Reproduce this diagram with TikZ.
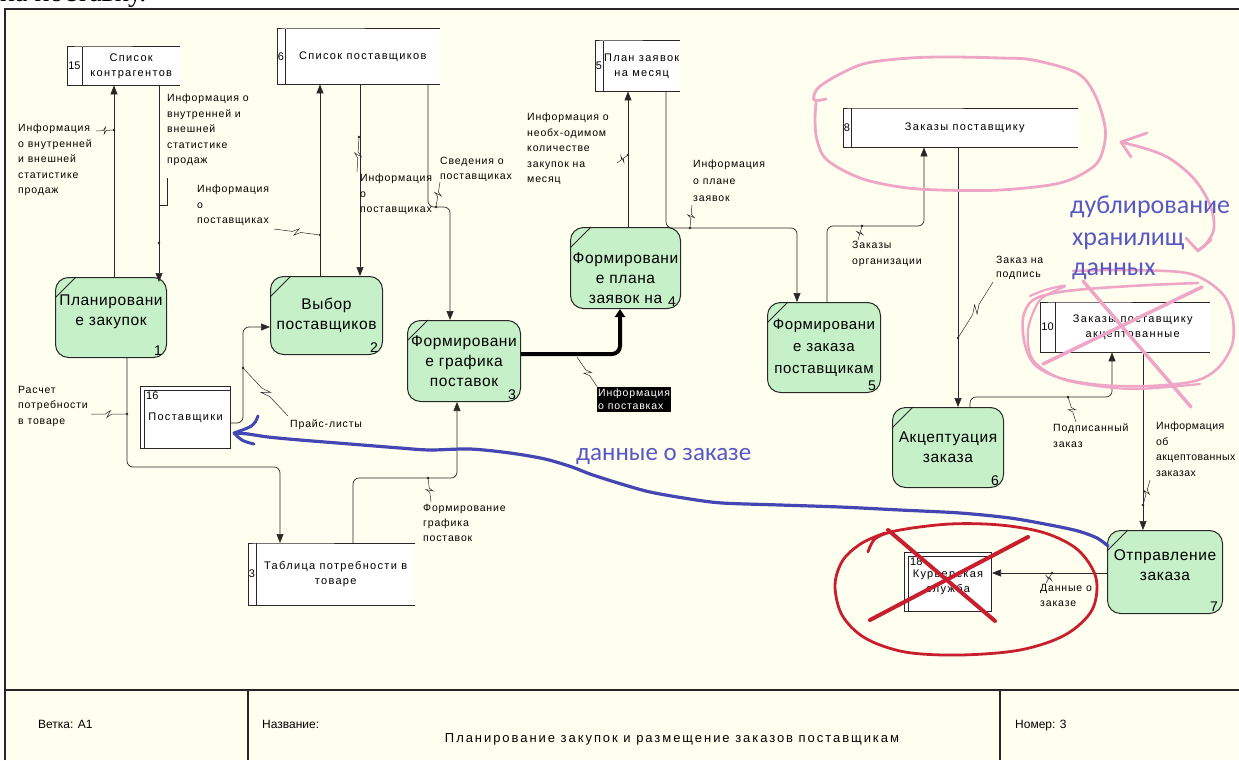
\documentclass[tikz,border=0pt]{standalone}
\usepackage{fontspec}
\setmainfont{Liberation Sans}
\newfontfamily\labf[LetterSpace=4]{Liberation Sans}
\newfontfamily\labg[LetterSpace=8]{Liberation Sans}
\newfontfamily\stf[LetterSpace=12]{Liberation Sans}
\newfontfamily\procf[LetterSpace=4]{Liberation Sans}
\newfontfamily\titf[LetterSpace=15]{Liberation Sans}
\newfontfamily\handf{Carlito}
\newfontfamily\docf{Liberation Serif}
\usetikzlibrary{arrows.meta,calc}
\definecolor{cream}{RGB}{255,255,240}
\definecolor{procgreen}{RGB}{198,240,200}
\definecolor{lineg}{RGB}{40,40,40}
\definecolor{blueink}{RGB}{68,70,180}
\definecolor{bluetext}{RGB}{88,88,196}
\definecolor{pinkink}{RGB}{238,165,198}
\definecolor{redink}{RGB}{200,30,45}

\newcommand\mkstore[8]{%
  \fill[white] (#2,#3) rectangle ++(#4+#5,#6);
  \node[storetxt, minimum width=#5, minimum height=#6, anchor=north west] (#1) at (#2+#4,#3) {#8};
  \draw[storeline] (#1.north east) -- (#1.north west) -- ++(-#4,0) |- (#1.south east);
  \draw[storeline] (#1.north west) -- (#1.south west);
  \node[numtxt] at ($(#1.west)+(-#4/2,0)$) {#7};
}
\newcommand\mkext[7]{%
  \node[extbox, minimum width=#4, minimum height=#5, anchor=north west] (#1) at (#2,#3) {#7};
  \draw[storeline] ($(#1.north west)+(4,4)$) -- ($(#1.south west)+(4,0)$);
  \draw[storeline] ($(#1.north west)+(4,4)$) -- ($(#1.north east)+(0,4)$);
  \node[numtxt, anchor=north west] at ($(#1.north west)+(6,6)$) {#6};
}
\newcommand\mkproc[8][]{%
  \node[proc, #1, minimum width=#5, minimum height=#6, anchor=north west] (#2) at (#3,#4) {#8};
  \draw[lineg, line width=0.8pt] ($(#2.north west)+(0,21)$) -- ($(#2.north west)+(21,0)$);
  \node[pnum, anchor=south east] at ($(#2.south east)+(-5,-2)$) {#7};
}

\begin{document}
\begin{tikzpicture}[x=1pt,y=-1pt,
  storetxt/.style={fill=white, inner sep=0pt, align=center, font=\stf\fontsize{11}{15}\selectfont},
  storeline/.style={draw=lineg, line width=1pt},
  numtxt/.style={inner sep=0pt, font=\fontsize{11}{12}\selectfont},
  extbox/.style={draw=lineg, line width=1pt, fill=white, inner sep=0pt, align=center, font=\stf\fontsize{11}{15}\selectfont},
  proc/.style={draw=lineg, line width=1pt, fill=procgreen, rounded corners=13pt, inner sep=0pt, align=center, font=\procf\fontsize{15.5}{20}\selectfont},
  pnum/.style={inner sep=0pt, font=\fontsize{14}{15}\selectfont},
  flow/.style={draw=lineg, line width=0.7pt, rounded corners=6pt, -{Triangle[length=9pt,width=7pt]}},
  thickflow/.style={draw=black, line width=4pt, rounded corners=8pt, -{Triangle[length=8pt,width=10pt]}},
  lab/.style={font=\labg\fontsize{10.5}{15.5}\selectfont, align=left, inner sep=0pt, anchor=north west},
  sq/.style={draw=lineg, line width=0.5pt, to path={-- ($(\tikztostart)!0.42!(\tikztotarget)$) -- ($(\tikztostart)!0.56!(\tikztotarget)!3.5pt!90:(\tikztotarget)$) -- ($(\tikztostart)!0.46!(\tikztotarget)!3.5pt!-90:(\tikztotarget)$) -- ($(\tikztostart)!0.6!(\tikztotarget)$) -- (\tikztotarget)}},
  dot/.style={fill=lineg},
  frame/.style={draw=black!85, line width=1.4pt},
  ttl/.style={inner sep=0pt, anchor=base west, font=\fontsize{12}{15}\selectfont},
  hand/.style={line cap=round, line join=round}
]
\useasboundingbox (0,0) rectangle (1239,760);
\fill[white] (0,0) rectangle (1239,760);
\fill[cream] (5,9) rectangle (1239,760);
\node[anchor=base west, inner sep=0pt, font=\docf\fontsize{28}{30}\selectfont] (doc) at (0,2) {на поставку.};

% frame and title block
\draw[frame] (5,760) -- (5,9) -- (1239,9);
\draw[frame] (5,690) -- (1239,690);
\draw[frame] (248,690) -- (248,760);
\draw[frame] (1000,690) -- (1000,760);
\node[ttl] (t1) at (38,728) {Ветка: A1};
\node[ttl] (t2) at (262,728) {Название:};
\node[ttl, anchor=base, font=\titf\fontsize{13}{15}\selectfont] (t3) at (672,742) {Планирование закупок и размещение заказов поставщикам};
\node[ttl] (t4) at (1015,728) {Номер: 3};

% data stores
\mkstore{S15}{67}{47}{15}{98}{38}{15}{Список\\контрагентов}
\mkstore{S6}{277}{29}{8}{155}{55}{6}{Список поставщиков}
\mkstore{S5}{595}{41}{8}{77}{50}{5}{План заявок\\на месяц}
\mkstore{S8}{843}{108}{8}{227}{39}{8}{Заказы поставщику}
\mkstore{S10}{1040}{302}{15}{155}{50}{10}{Заказы поставщику\\акцептованные}
\mkstore{S3}{248}{543}{8}{159}{62}{3}{Таблица потребности в\\товаре}

% external entities
\mkext{E16}{140}{386}{90}{62}{16}{Поставщики}
\mkext{E18}{904}{552}{87}{59}{18}{Курьерская\\служба}

% processes
\mkproc{P1}{55}{277}{111}{80}{1}{Планировани\\е закупок\rule[-15pt]{0pt}{15pt}}
\mkproc{P2}{270}{276}{112}{78}{2}{Выбор\\поставщиков}
\mkproc{P3}{407}{320}{113}{81}{3}{Формировани\\е графика\\поставок}
\mkproc{P4}{570}{227}{110}{81}{4}{\rule{0pt}{31pt}Формировани\\е плана\\заявок на}
\mkproc[font=\procf\fontsize{15}{22}\selectfont]{P5}{767}{302}{113}{90}{5}{Формировани\\е заказа\\поставщикам}
\mkproc{P6}{892}{407}{111}{80}{6}{Акцептуация\\заказа}
\mkproc{P7}{1107}{530}{115}{83}{7}{Отправление\\заказа\rule[-14pt]{0pt}{14pt}}

% flows
\draw[flow] (114,0 |- P1.north) -- (114,0 |- S15.south);
\draw[flow] (159,0 |- S15.south) -- ($(159,0 |- P1.north)+(0,5)$);
\draw[flow] (320,0 |- P2.north) -- (320,0 |- S6.south);
\draw[flow] (360,0 |- S6.south) -- (360,0 |- P2.north);
\draw[flow] (428,0 |- S6.south) -- (428,207) -- (450,207) -- (450,0 |- P3.north);
\draw[flow] (127,0 |- P1.south) -- (127,467) -- (280,467) -- (280,0 |- S3.north);
\draw[flow] (E16.east |- 0,423) -- (243,423) -- (243,327) -- (P2.west |- 0,327);
\draw[flow] (353,0 |- S3.north) -- (353,478) -- (457,478) -- (457,0 |- P3.south);
\draw[thickflow] (P3.east |- 0,354) -- (620,354) -- (620,0 |- P4.south);
\draw[flow] (628,0 |- P4.north) -- (628,0 |- S5.south);
\draw[flow] (666,0 |- S5.south) -- (666,228) -- (797,228) -- (797,0 |- P5.north);
\draw[flow] (827,0 |- P5.north) -- (827,226) -- (924,226) -- (924,0 |- S8.south);
\draw[flow] (958,0 |- S8.south) -- (958,0 |- P6.north);
\draw[flow] (970,0 |- P6.north) -- (970,397) -- (1112,397) -- (1112,0 |- S10.south);
\draw[flow] (1143,0 |- S10.south) -- (1143,0 |- P7.north);
\draw[flow] (P7.west |- 0,573) -- (E18.east |- 0,573);

% labels
\node[lab] (L1) at (18,124) {Информация\\о внутренней\\и внешней\\статистике\\продаж};
\node[lab] (L2) at (167,94) {Информация о\\внутренней и\\внешней\\статистике\\продаж};
\node[lab] (L3) at (197,185) {Информация\\о\\поставщиках};
\node[lab] (L4) at (360,174) {Информация\\о\\поставщиках};
\node[lab, font=\labg\fontsize{10.5}{15}\selectfont] (L5) at (440,157) {Сведения о\\поставщиках};
\node[lab] (L6) at (18,386) {Расчет\\потребности\\в товаре};
\node[lab, anchor=base west] (L7) at (290,427) {Прайс-листы};
\node[lab, font=\labg\fontsize{10.5}{15}\selectfont] (L8) at (423,504) {Формирование\\графика\\поставок};
\node[lab, fill=black, text=white, inner xsep=1pt, inner ysep=2pt, font=\labg\fontsize{10.5}{13}\selectfont] (L9) at (597,387) {Информация\\о поставках};
\node[lab] (L10) at (527,113) {Информация о\\необх-одимом\\количестве\\закупок на\\месяц};
\node[lab, font=\labg\fontsize{10.5}{17}\selectfont] (L11) at (693,160) {Информация\\о плане\\заявок};
\node[lab] (L12) at (852,241) {Заказы\\организации};
\node[lab, font=\labg\fontsize{10.5}{14}\selectfont] (L13) at (996,256) {Заказ на\\подпись};
\node[lab] (L14) at (1053,424) {Подписанный\\заказ};
\node[lab, font=\labf\fontsize{10.5}{15.5}\selectfont] (L15) at (1156,422) {Информация\\об\\акцептованных\\заказах};
\node[lab] (L16) at (1040,584) {Данные о\\заказе};

% label leaders
\coordinate (j1) at (114,130); \coordinate (k1) at (96,131);
\coordinate (j2) at (159,243);
\coordinate (j3) at (320,235); \coordinate (k3) at (274,229);
\coordinate (j4) at (359,137); \coordinate (k4) at (357,172);
\coordinate (j5) at (436,207); \coordinate (k5) at (440,182);
\coordinate (j6) at (127,414); \coordinate (k6) at (91,414);
\coordinate (j7) at (243,368); \coordinate (k7) at (288,416);
\coordinate (j8) at (428,478); \coordinate (k8) at (431,502);
\coordinate (j9) at (577,357); \coordinate (k9) at (598,388);
\coordinate (j10) at (628,155); \coordinate (k10) at (617,163);
\coordinate (j11) at (690,228); \coordinate (k11) at (692,205);
\coordinate (j12) at (862,226); \coordinate (k12) at (858,240);
\coordinate (j13) at (958,338); \coordinate (k13) at (993,282);
\coordinate (j14) at (1068,397); \coordinate (k14) at (1076,422);
\coordinate (j15) at (1143,505); \coordinate (k15) at (1150,480);
\coordinate (j16) at (1052,573); \coordinate (k16) at (1046,583);
\foreach \i in {1,3,4,5,6,7,8,9,10,11,12,13,14,15,16} {\draw[sq] (j\i) to (k\i);}
\draw[draw=lineg, line width=0.5pt] (159,205) -- (167,205) -- (167,178);
\foreach \i in {1,2,3,4,5,6,7,8,10,11,12,13,14,15,16} {\fill[dot] (j\i) circle (1.4pt);}

% hand-drawn annotations
\draw[blueink, line width=3.2pt, hand] plot[smooth, tension=0.5] coordinates {(1108,546) (1097,538) (1078,531) (1050,525) (1010,518) (960,513) (900,510) (840,507) (780,505) (722,503) (690,499) (650,492) (618,483) (590,474) (572,467) (545,459) (510,453) (470,449) (430,450) (400,448) (350,444) (300,440) (268,437) (248,434) (236,433)};
\draw[blueink, line width=3pt, hand] (258,416) .. controls (254,426) .. (234,433) .. controls (242,441) .. (254,444);
\node[anchor=base west, inner sep=0pt, text=bluetext, font=\handf\fontsize{25}{28}\selectfont] (dz) at (576,460) {данные о заказе};

\draw[pinkink, line width=2.8pt, hand] plot[smooth, tension=0.55] coordinates {(826,99) (814,100) (818,88) (840,74) (867,63) (910,58) (950,57) (1000,58) (1033,60) (1077,73) (1095,95) (1105,127) (1103,150) (1093,167) (1060,183) (1000,190) (940,190) (900,187) (860,178) (827,160) (817,140) (815,120) (816,103)};
\draw[pinkink, line width=2.8pt, hand] (1147,133) -- (1121,142) -- (1131,157);
\draw[pinkink, line width=2.8pt, hand] plot[smooth, tension=0.6] coordinates {(1121,142) (1150,150) (1172,160) (1195,180) (1210,205) (1214,228) (1206,244) (1198,250)};
\draw[pinkink, line width=2.8pt, hand] (1186,238) -- (1198,251) -- (1211,240);
\draw[pinkink, line width=2.6pt, hand] plot[smooth, tension=0.55] coordinates {(1073,271) (1120,270) (1180,272) (1205,280) (1225,297) (1233,320) (1232,345) (1218,368) (1195,381) (1150,386) (1100,385) (1060,378) (1035,365) (1025,345) (1023,318) (1033,300) (1060,292) (1100,288) (1150,285) (1198,283)};
\draw[pinkink, line width=2.2pt, hand] plot[smooth, tension=0.5] coordinates {(1030,296) (1045,290) (1065,286) (1040,300) (1028,330) (1033,360) (1065,380) (1130,389) (1200,384)};
\draw[pinkink, line width=3.5pt, hand] (1083,281) -- (1191,407);
\draw[pinkink, line width=3.5pt, hand] (1043,364) -- (1202,287);
\node[anchor=base west, inner sep=0pt, text=bluetext, font=\handf\fontsize{26}{31}\selectfont] (dh1) at (1070,213) {дублирование};
\node[anchor=base west, inner sep=0pt, text=bluetext, font=\handf\fontsize{26}{31}\selectfont] (dh2) at (1072,245) {хранилищ};
\node[anchor=base west, inner sep=0pt, text=bluetext, font=\handf\fontsize{26}{31}\selectfont] (dh3) at (1072,275) {данных};

\draw[redink, line width=2.8pt, hand] plot[smooth, tension=0.55] coordinates {(868,552) (876,538) (900,530) (950,524) (1000,525) (1045,533) (1078,550) (1096,578) (1092,610) (1065,635) (1020,650) (960,655) (905,652) (865,638) (842,615) (835,585) (843,560) (862,543) (885,533)};
\draw[redink, line width=4pt, hand] (888,530) -- (995,621);
\draw[redink, line width=4pt, hand] (870,620) -- (1028,537);
\end{tikzpicture}
\end{document}
